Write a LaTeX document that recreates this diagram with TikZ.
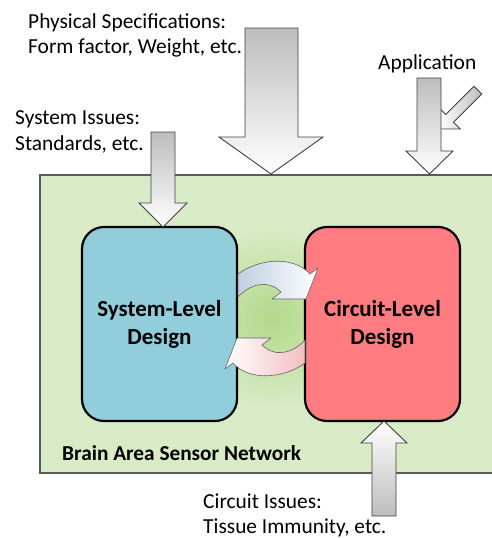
\documentclass[tikz,border=0pt]{standalone}
\usepackage{fontspec}
\setmainfont{Carlito}
\definecolor{bgGreen}{HTML}{D8EBC6}
\definecolor{glowGreen}{HTML}{B2D98A}
\definecolor{sysBlue}{HTML}{92CDDC}
\definecolor{cirRed}{HTML}{FF7C80}
\definecolor{frameGray}{HTML}{5A5A5A}
\definecolor{arrowGray}{HTML}{BDBDBD}
\definecolor{arrowLine}{HTML}{3F3F3F}
\definecolor{cycBlue}{HTML}{BFD0E0}
\definecolor{cycPink}{HTML}{F2BFC2}
\begin{document}
\begin{tikzpicture}[x=1pt,y=-1pt,
  label/.style={inner sep=0pt,anchor=base west,font=\fontsize{21.4}{25}\selectfont},
  designbox/.style={draw=black,line width=2.2pt,rounded corners=22pt,
    minimum width=155pt,minimum height=194pt,align=center,inner sep=0pt,
    font=\bfseries\fontsize{23}{28}\selectfont},
  blockdown/.style={draw=arrowLine,line width=0.9pt,line join=miter,
    top color=arrowGray,bottom color=white},
  blockup/.style={draw=arrowLine,line width=0.9pt,line join=miter,
    top color=white,bottom color=arrowGray},
  cycle arrow/.style={draw=arrowLine!80,line width=0.6pt,line join=round}]
\useasboundingbox (0,0) rectangle (491,538);

% network area
\fill[bgGreen] (40,175) rectangle (497,473);
\shade[inner color=glowGreen,outer color=bgGreen] (271.5,318) circle (90);
\draw[frameGray,line width=1.6pt] (497,175) -- (40,175) -- (40,473) -- (497,473);
\node[inner sep=0pt,anchor=base west,font=\bfseries\fontsize{21.3}{26}\selectfont]
  (net) at (62,460) {Brain Area Sensor Network};

% design blocks
\node[designbox,fill=sysBlue] (sys) at (159.5,324) {System-Level\\Design};
\node[designbox,fill=cirRed] (cir) at (382.5,324) {Circuit-Level\\Design};

% iteration arrows between the two design blocks
\path[cycle arrow,left color=cycBlue,right color=white]
  (238,274) .. controls (258,259) and (293,255) .. (310,274) -- (318,268)
  -- (306,299) -- (272,299) -- (281,292)
  .. controls (268,279) and (250,284) .. (238,297) -- cycle;
\path[cycle arrow,left color=white,right color=cycPink]
  (305,363) .. controls (285,378) and (250,382) .. (233,363) -- (225,369)
  -- (237,338) -- (271,338) -- (262,345)
  .. controls (275,358) and (293,353) .. (305,340) -- cycle;

% external inputs
\path[draw=arrowLine,line width=0.9pt,line join=miter,
  shading=axis,shading angle=45,left color=white,right color=arrowGray]
  (439,129) -- (460.2,129) -- (453.5,122.3) -- (481.8,94) -- (474,86.2)
  -- (445.7,114.5) -- (439,107.8) -- cycle;
\path[blockdown] (417,78) -- (441,78) -- (441,151) -- (453,151) -- (429.5,174)
  -- (406,151) -- (417,151) -- cycle;
\path[blockdown] (245,28) -- (298,28) -- (298,137) -- (323,137) -- (271,174)
  -- (219,137) -- (245,137) -- cycle;
\path[blockdown] (151,132) -- (175,132) -- (175,203) -- (187,203) -- (163,227)
  -- (139,203) -- (151,203) -- cycle;
\path[blockup] (372,516) -- (396,516) -- (396,443) -- (407,443) -- (384,421)
  -- (361,443) -- (372,443) -- cycle;

% input labels
\node[label] (phys1) at (28,28) {Physical Specifications:};
\node[label] (phys2) at (28,53) {Form factor, Weight, etc.};
\node[label] (app) at (378,69) {Application};
\node[label] (sysi1) at (15,124) {System Issues:};
\node[label] (sysi2) at (15,150) {Standards, etc.};
\node[label] (ciri1) at (203,508) {Circuit Issues:};
\node[label] (ciri2) at (203,533) {Tissue Immunity, etc.};
\end{tikzpicture}
\end{document}
